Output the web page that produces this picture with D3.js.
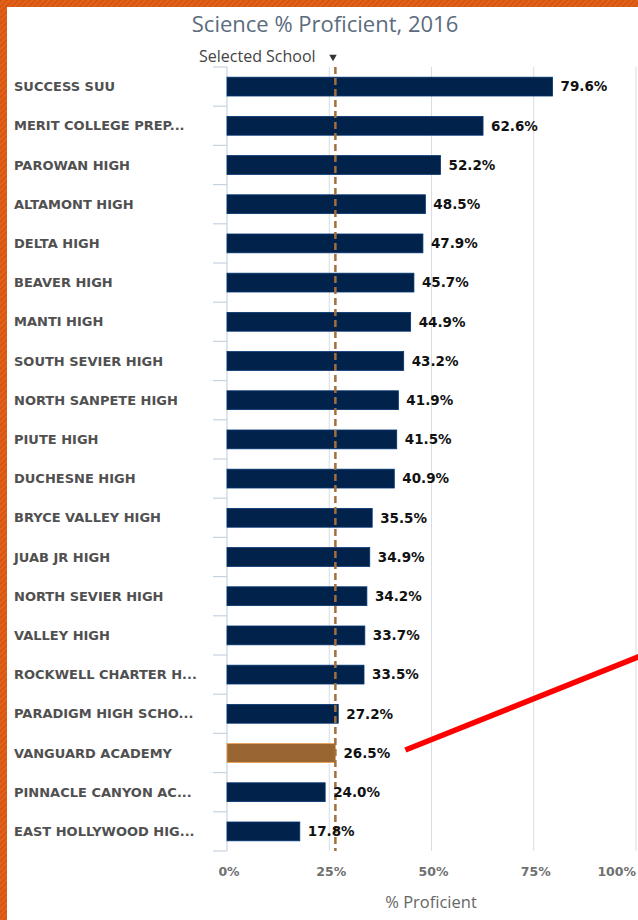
<!DOCTYPE html>
<html>
<head>
<meta charset="utf-8">
<script src="https://cdn.jsdelivr.net/npm/d3@7"></script>
<style>
  html, body { margin: 0; padding: 0; background: #fff; }
  svg { display: block; }
</style>
</head>
<body>
<div id="chart"></div>
<script>
// Science % Proficient, 2016 — horizontal bar chart

const schools = [
  'SUCCESS SUU', 'MERIT COLLEGE PREP...', 'PAROWAN HIGH', 'ALTAMONT HIGH', 'DELTA HIGH',
  'BEAVER HIGH', 'MANTI HIGH', 'SOUTH SEVIER HIGH', 'NORTH SANPETE HIGH', 'PIUTE HIGH',
  'DUCHESNE HIGH', 'BRYCE VALLEY HIGH', 'JUAB JR HIGH', 'NORTH SEVIER HIGH', 'VALLEY HIGH',
  'ROCKWELL CHARTER H...', 'PARADIGM HIGH SCHO...', 'VANGUARD ACADEMY', 'PINNACLE CANYON AC...',
  'EAST HOLLYWOOD HIG...'
];
const proficient = [
  79.6, 62.6, 52.2, 48.5, 47.9,
  45.7, 44.9, 43.2, 41.9, 41.5,
  40.9, 35.5, 34.9, 34.2, 33.7,
  33.5, 27.2, 26.5, 24.0,
  17.8
];
const selectedSchool = 'VANGUARD ACADEMY';
const xTicks = [0, 25, 50, 75, 100];

const W = 638, H = 920;
const NAVY = '#00224b', BROWN = '#996633';

const svg = d3.select('#chart').append('svg')
  .attr('width', W).attr('height', H);

// ── Orange slide frame ────────────────────────────────────────────────────────
const defs = svg.append('defs');
const pat = defs.append('pattern')
  .attr('id', 'stripes').attr('width', 4).attr('height', 4)
  .attr('patternUnits', 'userSpaceOnUse')
  .attr('patternTransform', 'rotate(45)');
pat.append('rect').attr('width', 4).attr('height', 4).attr('fill', '#e2621d');
pat.append('rect').attr('width', 2).attr('height', 4).attr('fill', '#d6560f');

svg.append('rect').attr('width', W).attr('height', H).attr('fill', 'url(#stripes)');
svg.append('rect').attr('x', 7).attr('y', 7).attr('width', W - 7).attr('height', H - 7).attr('fill', '#fff');

// ── Scales ────────────────────────────────────────────────────────────────────
const x = d3.scaleLinear().domain([0, 100]).range([227, 636]);
const y = d3.scaleBand().domain(schools).range([67, 851]).paddingInner(0.52).paddingOuter(0.26);
const step = y.step();
const [y0, y1] = y.range();

const data = schools.map((s, i) => ({ school: s, value: proficient[i] }));
const selValue = proficient[schools.indexOf(selectedSchool)];

// ── Titles ────────────────────────────────────────────────────────────────────
svg.append('text')
  .attr('x', 325).attr('y', 32)
  .attr('text-anchor', 'middle')
  .style('font-family', '"Open Sans", sans-serif').style('font-size', '22px')
  .style('fill', '#5b6c7e')
  .text('Science % Proficient, 2016');

svg.append('text')
  .attr('x', 199).attr('y', 61.5)
  .style('font-family', '"Open Sans", sans-serif').style('font-size', '16px')
  .style('fill', '#444')
  .text('Selected School');
svg.append('path')
  .attr('d', d3.symbol(d3.symbolTriangle, 24)())
  .attr('transform', `translate(333,57) rotate(180)`)
  .attr('fill', '#333');

// ── Grid ──────────────────────────────────────────────────────────────────────
svg.append('g').selectAll('line')
  .data(xTicks.slice(1)).enter().append('line')
  .attr('x1', d => x(d)).attr('x2', d => x(d))
  .attr('y1', y0).attr('y2', y1)
  .attr('stroke', '#dadde3').attr('stroke-width', 1);

// Y axis line + ticks at band boundaries
svg.append('line')
  .attr('x1', x(0)).attr('x2', x(0)).attr('y1', y0).attr('y2', y1)
  .attr('stroke', '#c6d2e2').attr('stroke-width', 1.2);
svg.append('g').selectAll('line')
  .data(d3.range(schools.length + 1)).enter().append('line')
  .attr('x1', x(0) - 14).attr('x2', x(0))
  .attr('y1', i => y0 + i * step).attr('y2', i => y0 + i * step)
  .attr('stroke', '#c6d2e2').attr('stroke-width', 1.2);

// ── Category labels ──────────────────────────────────────────────────────────
svg.append('g').selectAll('text')
  .data(data).enter().append('text')
  .attr('x', 14)
  .attr('y', d => y(d.school) + y.bandwidth() / 2)
  .attr('dy', '0.36em')
  .style('font-family', '"DejaVu Sans", sans-serif').style('font-size', '13px').style('font-weight', 'bold')
  .style('fill', '#505050')
  .text(d => d.school);

// ── Bars ──────────────────────────────────────────────────────────────────────
svg.append('g').selectAll('rect')
  .data(data).enter().append('rect')
  .attr('x', x(0))
  .attr('y', d => y(d.school))
  .attr('width', d => x(d.value) - x(0))
  .attr('height', y.bandwidth())
  .attr('fill', d => d.school === selectedSchool ? BROWN : NAVY)
  .attr('stroke', d => d3.color(d.school === selectedSchool ? BROWN : NAVY).brighter(1.2))
  .attr('stroke-width', 0.8);

// ── Reference line (selected school value) ───────────────────────────────────
svg.append('line')
  .attr('x1', x(selValue)).attr('x2', x(selValue))
  .attr('y1', y0).attr('y2', y1)
  .attr('stroke', '#a36f3c').attr('stroke-width', 2.5)
  .attr('stroke-dasharray', '7,4');

// ── Value labels ─────────────────────────────────────────────────────────────
svg.append('g').selectAll('text')
  .data(data).enter().append('text')
  .attr('x', d => x(d.value) + 8)
  .attr('y', d => y(d.school) + y.bandwidth() / 2)
  .attr('dy', '0.36em')
  .style('font-family', '"DejaVu Sans", sans-serif').style('font-size', '13.5px').style('font-weight', 'bold')
  .style('fill', '#111')
  .text(d => d.value.toFixed(1) + '%');

// ── X axis labels ────────────────────────────────────────────────────────────
svg.append('g').selectAll('text')
  .data(xTicks).enter().append('text')
  .attr('x', d => d === 100 ? x(d) : x(d) + 2)
  .attr('y', 876)
  .attr('text-anchor', d => d === 100 ? 'end' : 'middle')
  .style('font-family', '"DejaVu Sans", sans-serif').style('font-size', '12.5px').style('font-weight', 'bold')
  .style('fill', '#707070')
  .text(d => d + '%');

svg.append('text')
  .attr('x', 431).attr('y', 908)
  .attr('text-anchor', 'middle')
  .style('font-family', '"Open Sans", sans-serif').style('font-size', '16.5px')
  .style('fill', '#666')
  .text('% Proficient');

// ── Red pointer annotation ───────────────────────────────────────────────────
const selY = y(selectedSchool) + y.bandwidth() / 2;
svg.append('line')
  .attr('x1', x(selValue) + 70).attr('y1', selY - 3)
  .attr('x2', x(106)).attr('y2', selY - 105)
  .attr('stroke', '#ff0000').attr('stroke-width', 5.5);
</script>
</body>
</html>
